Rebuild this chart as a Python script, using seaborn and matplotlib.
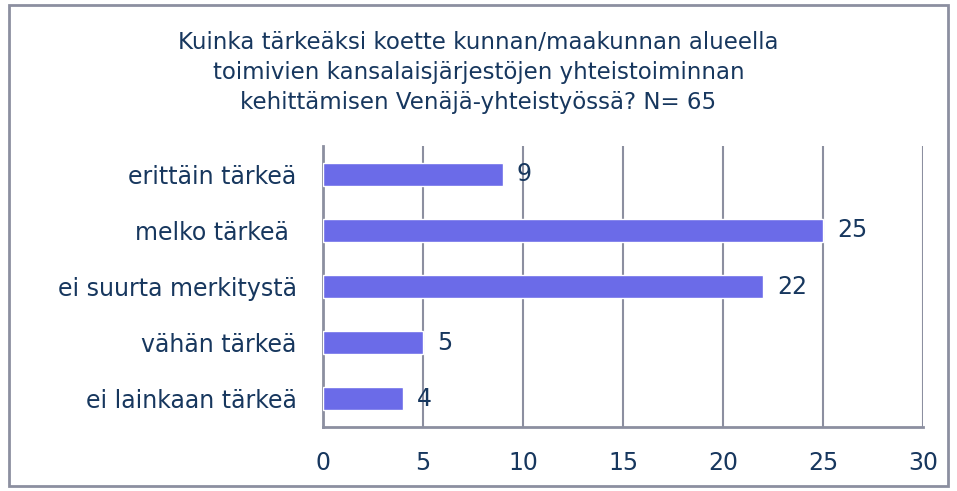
import pandas as pd
import seaborn as sns
import matplotlib.pyplot as plt
from matplotlib.patches import Rectangle

categories = ["erittäin tärkeä", "melko tärkeä ", "ei suurta merkitystä", "vähän tärkeä", "ei lainkaan tärkeä"]
counts = [9, 25, 22, 5, 4]
xticks = [0, 5, 10, 15, 20, 25, 30]

title = ("Kuinka tärkeäksi koette kunnan/maakunnan alueella\n"
         "toimivien kansalaisjärjestöjen yhteistoiminnan\n"
         "kehittämisen Venäjä-yhteistyössä? N= 65")

df = pd.DataFrame({"vastaus": categories, "lkm": counts})

sns.set_style("white")
plt.rcParams['font.family'] = ['DejaVu Sans']

text_col = "#17375E"
grid_col = "#8C8FA0"
bar_col = "#6B6BE8"

fig = plt.figure(figsize=(9.57, 4.91), dpi=100)
ax = fig.add_axes([0.3375, 0.1303, 0.627, 0.5723])

sns.barplot(data=df, x="lkm", y="vastaus", orient="h", color=bar_col,
            width=0.41, saturation=1, ax=ax, zorder=3)

ax.set_xlim(0, 30)
ax.set_xticks(xticks)
ax.set_xlabel("")
ax.set_ylabel("")
ax.grid(axis="x", color=grid_col, linewidth=1.5, zorder=0)
ax.grid(axis="y", visible=False)
for side in ["top", "right"]:
    ax.spines[side].set_visible(False)
for side in ["left", "bottom"]:
    ax.spines[side].set_color(grid_col)
    ax.spines[side].set_linewidth(2)
ax.tick_params(axis="x", length=0, pad=17, labelsize=17, labelcolor=text_col)
ax.tick_params(axis="y", length=0, pad=19, labelsize=17, labelcolor=text_col)

ax.bar_label(ax.containers[0], labels=[str(c) for c in counts], padding=10,
             fontsize=17, color=text_col)

fig.text(0.5, 0.852, title, ha="center", va="center", fontsize=16.5,
         color=text_col, linespacing=1.4)

fig.patches.append(Rectangle((0.009, 0.01), 0.982, 0.98, transform=fig.transFigure,
                             fill=False, edgecolor=grid_col, linewidth=2))

fig.savefig("out.png", dpi=100)
